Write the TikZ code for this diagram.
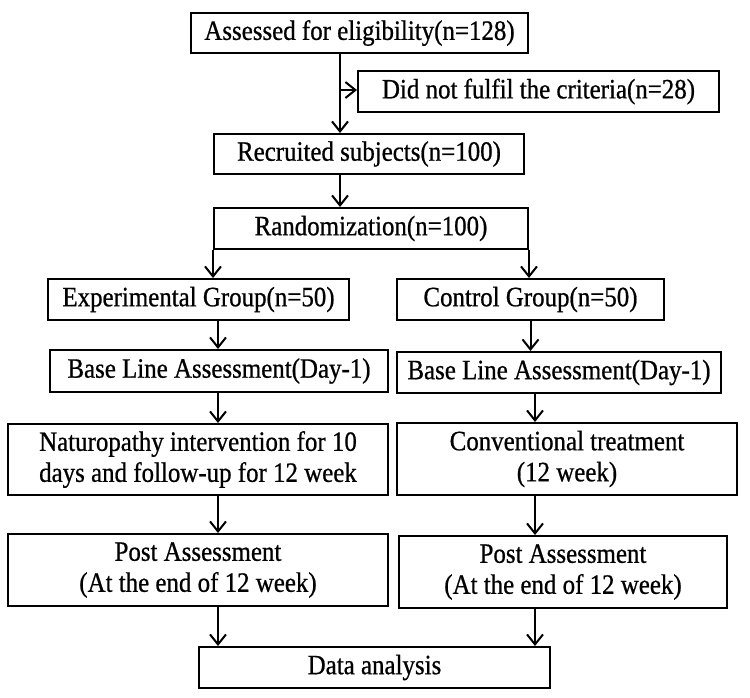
\documentclass[tikz,border=0pt]{standalone}
\usepackage{fontspec}
\setmainfont{Liberation Serif}
\newfontfamily\boxfont[FakeStretch=0.89,UprightFeatures={FakeBold=0.7}]{Liberation Serif}
\usetikzlibrary{arrows.meta}
\begin{document}
\begin{tikzpicture}[x=0.5pt,y=-0.5pt,
  box/.style={draw, line width=1pt, inner sep=0pt, align=center, font=\boxfont\fontsize{14}{15.5}\selectfont},
  arrow/.style={line width=1pt, -{Straight Barb[length=5pt,width=8pt,line width=1pt]}}]
\fill[white] (0,0) rectangle (750,697);
\useasboundingbox (0,0) rectangle (750,697);
\node[box, minimum width=168.5pt, minimum height=20pt] (assessed) at (359.5,33) {Assessed for eligibility(n=128)};
\node[box, minimum width=180.5pt, minimum height=20.5pt] (excluded) at (538.5,91.5) {Did not fulfil the criteria(n=28)};
\node[box, minimum width=155pt, minimum height=20pt] (recruited) at (369,154) {Recruited subjects(n=100)};
\node[box, minimum width=157pt, minimum height=20.5pt] (random) at (371,228.5) {Randomization(n=100)};
\node[box, minimum width=150.5pt, minimum height=20.5pt] (expgroup) at (198.5,299.5) {Experimental Group(n=50)};
\node[box, minimum width=133.5pt, minimum height=20.5pt] (ctrlgroup) at (530.5,299.5) {Control Group(n=50)};
\node[box, minimum width=169pt, minimum height=21pt] (expbase) at (219,371) {Base Line Assessment(Day-1)};
\node[box, minimum width=162pt, minimum height=20.5pt] (ctrlbase) at (559,372.5) {Base Line Assessment(Day-1)};
\node[box, minimum width=190pt, minimum height=35.5pt] (exptreat) at (198,459.5) {Naturopathy intervention for 10\\days and follow-up for 12 week};
\node[box, minimum width=170pt, minimum height=36pt] (ctrltreat) at (567,459) {Conventional treatment\\(12 week)};
\node[box, minimum width=190pt, minimum height=36pt] (exppost) at (198,570) {Post Assessment\\(At the end of 12 week)};
\node[box, minimum width=164pt, minimum height=36pt] (ctrlpost) at (563,572) {Post Assessment\\(At the end of 12 week)};
\node[box, minimum width=175.5pt, minimum height=20.5pt] (analysis) at (374.5,667.5) {Data analysis};
\coordinate (split) at (340,90);
\coordinate (lcol) at (218,0);
\coordinate (rcol) at (535,0);
% screening
\draw[arrow] (assessed.south -| split) -- (recruited.north -| split);
\draw[arrow] (split) -- (split -| excluded.west);
\draw[arrow] (recruited.south -| split) -- (random.north -| split);
% two arms
\draw[arrow] (random.south west) -- (random.south west |- expgroup.north);
\draw[arrow] (random.south east) -- (random.south east |- ctrlgroup.north);
\draw[arrow] (expgroup.south -| lcol) -- (expbase.north -| lcol);
\draw[arrow] (ctrlgroup.south) -- (ctrlgroup.south |- ctrlbase.north);
\draw[arrow] (expbase.south -| lcol) -- (exptreat.north -| lcol);
\draw[arrow] (ctrlbase.south -| rcol) -- (ctrltreat.north -| rcol);
\draw[arrow] (exptreat.south -| lcol) -- (exppost.north -| lcol);
\draw[arrow] (ctrltreat.south -| rcol) -- (ctrlpost.north -| rcol);
\draw[arrow] (exppost.south -| lcol) -- (analysis.north -| lcol);
\draw[arrow] (ctrlpost.south -| rcol) -- (analysis.north -| rcol);
\end{tikzpicture}
\end{document}
